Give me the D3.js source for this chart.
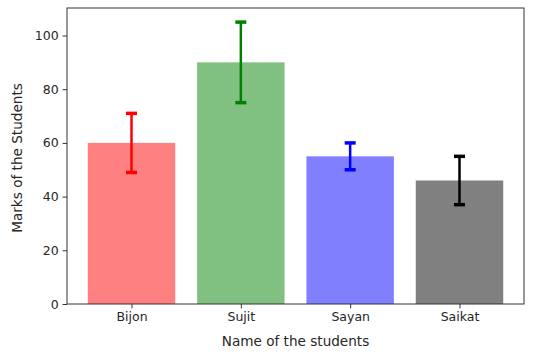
<!DOCTYPE html>
<html>
<head>
<meta charset="utf-8">
<script src="https://cdn.jsdelivr.net/npm/d3@7"></script>
<style>
  body { margin: 0; background: #fff; }
  svg text { font-family: "DejaVu Sans", sans-serif; fill: #262626; }
</style>
</head>
<body>
<svg id="chart" width="543" height="362"></svg>
<script>
// data
const students = ["Bijon", "Sujit", "Sayan", "Saikat"];
const marks = [60, 90, 55, 46];
const errors = [11, 15, 5, 9];
const barColors = ["#ff8080", "#80c080", "#8080ff", "#808080"];
const errColors = ["#ff0000", "#008000", "#0000ff", "#000000"];
const yTicks = [0, 20, 40, 60, 80, 100];

const margin = { left: 67, top: 8, right: 19, bottom: 58 };
const width = 543, height = 362;
const svg = d3.select("#chart");

// positions 0..n-1, bar width 0.8, 5% padding like matplotlib
const x = d3.scaleLinear()
    .domain([-0.59, students.length - 1 + 0.59])
    .range([margin.left, width - margin.right]);
const y = d3.scaleLinear()
    .domain([0, 110.25])
    .range([height - margin.bottom, margin.top]);

const fontSize = "12.5px";
const labelSize = "13.6px";

// bars
svg.append("g").selectAll("rect")
    .data(marks)
    .join("rect")
    .attr("x", (d, i) => x(i - 0.4))
    .attr("width", x(0.4) - x(-0.4))
    .attr("y", d => y(d))
    .attr("height", d => y(0) - y(d))
    .attr("fill", (d, i) => barColors[i]);

// error bars
const eb = svg.append("g").selectAll("g")
    .data(marks)
    .join("g");
eb.append("line")
    .attr("x1", (d, i) => x(i)).attr("x2", (d, i) => x(i))
    .attr("y1", (d, i) => y(d - errors[i]))
    .attr("y2", (d, i) => y(d + errors[i]))
    .attr("stroke", (d, i) => errColors[i])
    .attr("stroke-width", 2.5);
[-1, 1].forEach(s => {
  eb.append("line")
    .attr("x1", (d, i) => x(i) - 5.5).attr("x2", (d, i) => x(i) + 5.5)
    .attr("y1", (d, i) => y(d + s * errors[i]))
    .attr("y2", (d, i) => y(d + s * errors[i]))
    .attr("stroke", (d, i) => errColors[i])
    .attr("stroke-width", 3.5);
});

// axes
const xAxis = svg.append("g")
    .attr("transform", `translate(0,${y(0)})`)
    .call(d3.axisBottom(x).tickValues(d3.range(students.length))
      .tickFormat(i => students[i]).tickSize(4.4).tickPadding(4));
const yAxis = svg.append("g")
    .attr("transform", `translate(${margin.left},0)`)
    .call(d3.axisLeft(y).tickValues(yTicks).tickSize(4.4).tickPadding(4));
[xAxis, yAxis].forEach(a => {
  a.select(".domain").remove();
  a.selectAll("line").attr("stroke", "#333");
  a.selectAll("text").attr("font-size", fontSize).attr("fill", "#262626")
    .style("font-family", "DejaVu Sans, sans-serif");
});

// frame
svg.append("rect")
    .attr("x", margin.left).attr("y", margin.top)
    .attr("width", width - margin.left - margin.right)
    .attr("height", height - margin.top - margin.bottom)
    .attr("fill", "none").attr("stroke", "#333").attr("stroke-width", 1);

// labels
svg.append("text")
    .attr("x", (x.range()[0] + x.range()[1]) / 2).attr("y", 345.5)
    .attr("text-anchor", "middle").attr("font-size", labelSize)
    .text("Name of the students");
svg.append("text")
    .attr("transform", `translate(21.5,${(y.range()[0] + y.range()[1]) / 2 + 2}) rotate(-90)`)
    .attr("text-anchor", "middle").attr("font-size", labelSize)
    .text("Marks of the Students");
</script>
</body>
</html>
